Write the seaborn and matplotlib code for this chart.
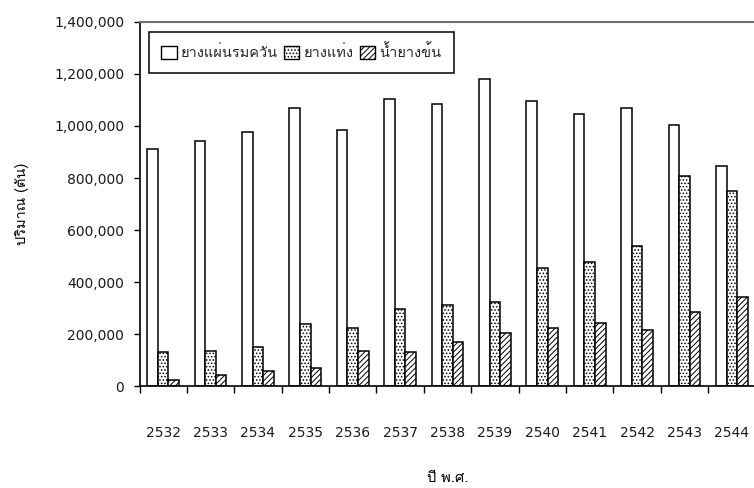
import matplotlib
matplotlib.use("Agg")
import matplotlib.pyplot as plt
import seaborn as sns
import pandas as pd
from matplotlib.patches import Patch
from matplotlib.ticker import FuncFormatter, FixedLocator

# Thai rubber production by type (tonnes), Buddhist-era years
years = ["2532", "2533", "2534", "2535", "2536", "2537", "2538",
         "2539", "2540", "2541", "2542", "2543", "2544"]
smoked_sheet = [910000, 941000, 975000, 1069000, 985000, 1105000, 1085000,
                1180000, 1096000, 1046000, 1069000, 1005000, 845000]
block_rubber = [130000, 135000, 149000, 240000, 222000, 298000, 312000,
                324000, 454000, 478000, 540000, 808000, 750000]
concentrated_latex = [24000, 44000, 59000, 68000, 135000, 130000, 168000,
                      204000, 224000, 243000, 214000, 283000, 343000]
series_names = ["ยางแผ่นรมควัน", "ยางแท่ง", "น้ำยางข้น"]
y_ticks = [0, 200000, 400000, 600000, 800000, 1000000, 1200000, 1400000]
x_title = "ปี พ.ศ."
y_title = "ปริมาณ (ตัน)"

hatches = ["", ".....", "//////"]
thai_font = ["Loma", "DejaVu Sans"]

df = pd.DataFrame({
    "year": years * 3,
    "value": smoked_sheet + block_rubber + concentrated_latex,
    "series": [series_names[0]] * len(years) + [series_names[1]] * len(years)
              + [series_names[2]] * len(years),
})

sns.set_theme(style="white")
plt.rcParams["font.family"] = ["DejaVu Sans"]
plt.rcParams["hatch.linewidth"] = 0.7
plt.rcParams["hatch.color"] = "black"

W, H = 754, 488
fig = plt.figure(figsize=(W / 100, H / 100), dpi=100)
left_px, right_px, top_px, bottom_px = 139.5, 755.5, 22, 386
ax = fig.add_axes([left_px / W, (H - bottom_px) / H,
                   (right_px - left_px) / W, (bottom_px - top_px) / H])

sns.barplot(data=df, x="year", y="value", hue="series", order=years,
            hue_order=series_names, palette=["white"] * 3, width=0.67,
            edgecolor="black", linewidth=1.1, saturation=1, legend=False,
            ax=ax)
for container, hatch in zip(ax.containers, hatches):
    for bar in container:
        bar.set_hatch(hatch)
        bar.set_edgecolor("black")

ax.set_xlim(-0.5, len(years) - 0.5)
ax.set_ylim(0, 1400000)
ax.set_facecolor("white")

# y axis
ax.yaxis.set_major_locator(FixedLocator(y_ticks))
ax.yaxis.set_major_formatter(FuncFormatter(lambda v, p: f"{v:,.0f}"))
ax.tick_params(axis="y", which="major", direction="out", length=4.5,
               width=1, color="black", pad=6.5, labelsize=10,
               labelcolor="#1a1a1a", left=True)

# x axis: ticks on category boundaries, labels centred on categories
ax.xaxis.set_major_locator(FixedLocator([i - 0.5 for i in range(len(years) + 1)]))
ax.xaxis.set_minor_locator(FixedLocator(list(range(len(years)))))
ax.xaxis.set_major_formatter(FuncFormatter(lambda v, p: ""))
ax.xaxis.set_minor_formatter(FuncFormatter(lambda v, p: years[int(round(v))]))
ax.tick_params(axis="x", which="major", direction="out", length=5,
               width=1, color="black", bottom=True)
ax.tick_params(axis="x", which="minor", length=0, pad=29, labelsize=10,
               labelcolor="#1a1a1a", bottom=True)

for side in ["left", "bottom"]:
    ax.spines[side].set_color("black")
    ax.spines[side].set_linewidth(1.2)
ax.spines["top"].set_color("#6e6e6e")
ax.spines["top"].set_linewidth(1.5)
ax.spines["right"].set_visible(False)

ax.set_xlabel(x_title, family=thai_font, fontsize=10.5, color="black")
ax.set_ylabel(y_title, family=thai_font, fontsize=10.5, color="black")
ax.xaxis.set_label_coords(0.5, -0.253)
ax.xaxis.label.set_va("center")
ax.yaxis.set_label_coords(-0.19, 0.5)
ax.yaxis.label.set_va("center")

handles = [Patch(facecolor="white", edgecolor="black", hatch=h, linewidth=1)
           for h in hatches]
leg = ax.legend(handles, series_names, loc="upper left",
                bbox_to_anchor=(9.5 / 616, 1 - 10 / 364), ncol=3,
                prop={"family": thai_font, "size": 10.5}, frameon=True,
                fancybox=False, framealpha=1, edgecolor="black",
                handlelength=1.05, handleheight=1.05, handletextpad=0.3,
                columnspacing=0.4, borderpad=0.85, borderaxespad=0)
leg.get_frame().set_linewidth(1.1)

fig.savefig("out.png", dpi=100, facecolor="white")
